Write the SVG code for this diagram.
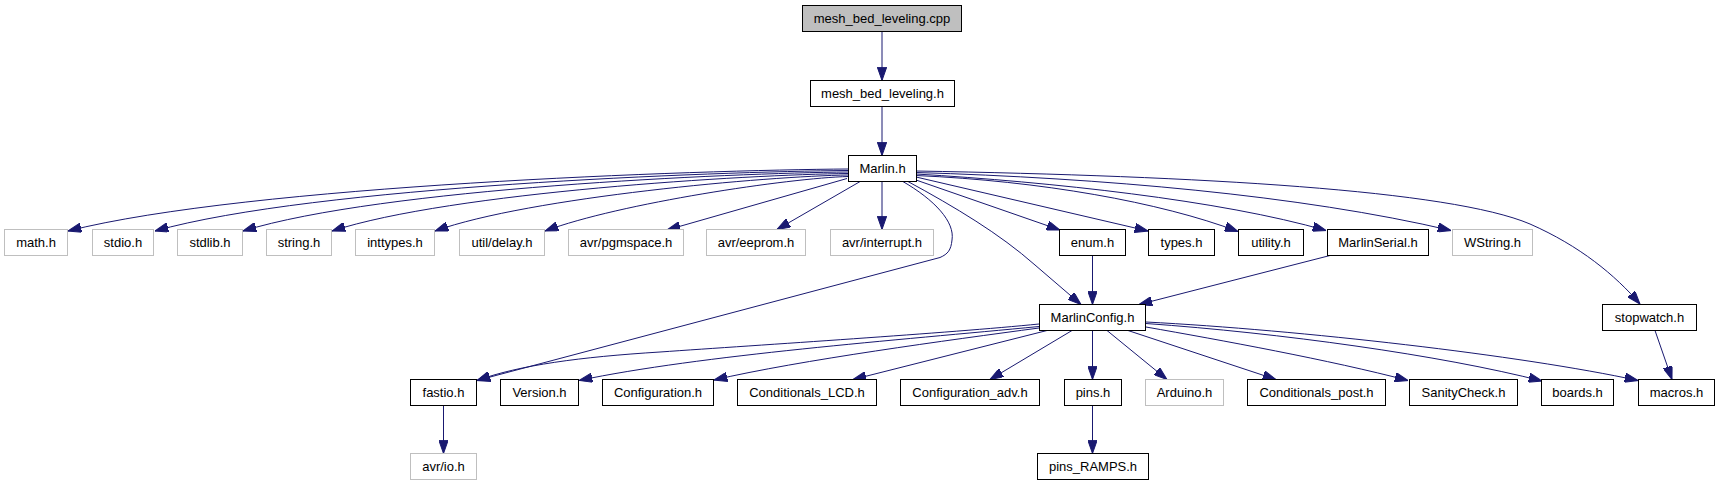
<svg xmlns="http://www.w3.org/2000/svg" width="1720" height="485" viewBox="0 0 1720 485">
<style>
.n rect{fill:#ffffff;stroke:#000000;stroke-width:1}
.n.g rect{stroke:#bfbfbf}
.n.cur rect{fill:#bfbfbf}
.n text{font-family:"Liberation Sans",Arial,sans-serif;font-size:13px;fill:#000000;text-anchor:middle}
#edges path{fill:none;stroke:#191970;stroke-width:1;marker-end:url(#ah)}
</style>
<defs>
<marker id="ah" markerUnits="userSpaceOnUse" viewBox="0 0 13.3 9.4" refX="13.3" refY="4.7" markerWidth="13.3" markerHeight="9.4" orient="auto">
<path d="M0,0 L13.3,4.7 L0,9.4 z" fill="#191970" stroke="#191970" stroke-width="1"/>
</marker>
</defs>
<rect x="0" y="0" width="1720" height="485" fill="#ffffff"/>
<g id="edges">
<path d="M882,31.5 L882,80.5"/>
<path d="M882,106.5 L882,155.5"/>
<path d="M848,169 C700,170 250,185 68,231"/>
<path d="M848,170.5 C718,171.5 315,186 155,231"/>
<path d="M848,172 C733,173 383,188 243,231"/>
<path d="M848,173.5 C750,174.5 452,192 332,231"/>
<path d="M848,175 C770,176 530,197 435,231"/>
<path d="M848,176.5 C790,178 620,203 545,231"/>
<path d="M847,178.5 L667,230"/>
<path d="M861,181 L777,229.5"/>
<path d="M882,181.5 L882,229.5"/>
<path d="M902,181 C935,200 955,222 952,240 C951,250 948,254 940,257.5 L477,380.5"/>
<path d="M907,181 C955,207 1000,234 1035,265 L1081,304.5"/>
<path d="M916,180 L1060,230"/>
<path d="M916,177 L1148,231"/>
<path d="M916,175.5 C1040,181 1160,202 1238,231.5"/>
<path d="M916,174 C1050,182 1220,200 1326,230.5"/>
<path d="M916,172.5 C1100,178 1300,195 1451,230.5"/>
<path d="M916,171 C1200,176 1450,190 1530,224 C1580,246 1615,275 1640,304"/>
<path d="M1092.5,255.5 L1092.5,304.5"/>
<path d="M1330,255.5 L1139,304.5"/>
<path d="M1039,324 C950,333 760,345 660,352 C580,357 520,365 477,380.5"/>
<path d="M1039,326.5 C900,340 700,355 579,380.5"/>
<path d="M1039,328 C950,340 800,360 714,380"/>
<path d="M1047,330.5 L853,379.5"/>
<path d="M1072,330.5 L990,379.5"/>
<path d="M1092.5,330.5 L1092.5,379.5"/>
<path d="M1107,330.5 L1167,379.5"/>
<path d="M1128,330.5 L1276,379.5"/>
<path d="M1146,327 C1220,340 1330,360 1408,380.5"/>
<path d="M1146,323.5 C1280,333 1440,355 1542,381"/>
<path d="M1146,322 C1300,330 1520,355 1638,380.5"/>
<path d="M1655,330.5 L1672,379.5"/>
<path d="M443.5,405.5 L443.5,453.5"/>
<path d="M1092.5,405.5 L1092.5,453.5"/>
</g>
<g id="node_cpp" class="n cur"><rect x="802.5" y="5.5" width="159" height="26"/><text x="882" y="22.5">mesh_bed_leveling.cpp</text></g>
<g id="node_mbl_h" class="n"><rect x="810.5" y="80.5" width="144" height="26"/><text x="882.5" y="97.5">mesh_bed_leveling.h</text></g>
<g id="node_marlin_h" class="n"><rect x="848.5" y="155.5" width="68" height="26"/><text x="882.5" y="172.5">Marlin.h</text></g>
<g id="node_math_h" class="n g"><rect x="4.5" y="229.5" width="63" height="26"/><text x="36" y="246.5">math.h</text></g>
<g id="node_stdio_h" class="n g"><rect x="92.5" y="229.5" width="61" height="26"/><text x="123" y="246.5">stdio.h</text></g>
<g id="node_stdlib_h" class="n g"><rect x="177.5" y="229.5" width="65" height="26"/><text x="210" y="246.5">stdlib.h</text></g>
<g id="node_string_h" class="n g"><rect x="266.5" y="229.5" width="65" height="26"/><text x="299" y="246.5">string.h</text></g>
<g id="node_inttypes_h" class="n g"><rect x="355.5" y="229.5" width="79" height="26"/><text x="395" y="246.5">inttypes.h</text></g>
<g id="node_util_delay_h" class="n g"><rect x="459.5" y="229.5" width="85" height="26"/><text x="502" y="246.5">util/delay.h</text></g>
<g id="node_avr_pgmspace_h" class="n g"><rect x="568.5" y="229.5" width="115" height="26"/><text x="626" y="246.5">avr/pgmspace.h</text></g>
<g id="node_avr_eeprom_h" class="n g"><rect x="706.5" y="229.5" width="99" height="26"/><text x="756" y="246.5">avr/eeprom.h</text></g>
<g id="node_avr_interrupt_h" class="n g"><rect x="830.5" y="229.5" width="103" height="26"/><text x="882" y="246.5">avr/interrupt.h</text></g>
<g id="node_enum_h" class="n"><rect x="1059.5" y="229.5" width="66" height="26"/><text x="1092.5" y="246.5">enum.h</text></g>
<g id="node_types_h" class="n"><rect x="1148.5" y="229.5" width="66" height="26"/><text x="1181.5" y="246.5">types.h</text></g>
<g id="node_utility_h" class="n"><rect x="1238.5" y="229.5" width="65" height="26"/><text x="1271" y="246.5">utility.h</text></g>
<g id="node_marlinserial_h" class="n"><rect x="1327.5" y="229.5" width="101" height="26"/><text x="1378" y="246.5">MarlinSerial.h</text></g>
<g id="node_wstring_h" class="n g"><rect x="1452.5" y="229.5" width="80" height="26"/><text x="1492.5" y="246.5">WString.h</text></g>
<g id="node_marlinconfig_h" class="n"><rect x="1039.5" y="304.5" width="106" height="26"/><text x="1092.5" y="321.5">MarlinConfig.h</text></g>
<g id="node_stopwatch_h" class="n"><rect x="1602.5" y="304.5" width="94" height="26"/><text x="1649.5" y="321.5">stopwatch.h</text></g>
<g id="node_fastio_h" class="n"><rect x="410.5" y="379.5" width="66" height="26"/><text x="443.5" y="396.5">fastio.h</text></g>
<g id="node_version_h" class="n"><rect x="500.5" y="379.5" width="78" height="26"/><text x="539.5" y="396.5">Version.h</text></g>
<g id="node_configuration_h" class="n"><rect x="602.5" y="379.5" width="111" height="26"/><text x="658" y="396.5">Configuration.h</text></g>
<g id="node_conditionals_lcd_h" class="n"><rect x="737.5" y="379.5" width="139" height="26"/><text x="807" y="396.5">Conditionals_LCD.h</text></g>
<g id="node_configuration_adv_h" class="n"><rect x="900.5" y="379.5" width="139" height="26"/><text x="970" y="396.5">Configuration_adv.h</text></g>
<g id="node_pins_h" class="n"><rect x="1064.5" y="379.5" width="57" height="26"/><text x="1093" y="396.5">pins.h</text></g>
<g id="node_arduino_h" class="n g"><rect x="1145.5" y="379.5" width="78" height="26"/><text x="1184.5" y="396.5">Arduino.h</text></g>
<g id="node_conditionals_post_h" class="n"><rect x="1247.5" y="379.5" width="138" height="26"/><text x="1316.5" y="396.5">Conditionals_post.h</text></g>
<g id="node_sanitycheck_h" class="n"><rect x="1409.5" y="379.5" width="108" height="26"/><text x="1463.5" y="396.5">SanityCheck.h</text></g>
<g id="node_boards_h" class="n"><rect x="1541.5" y="379.5" width="72" height="26"/><text x="1577.5" y="396.5">boards.h</text></g>
<g id="node_macros_h" class="n"><rect x="1638.5" y="379.5" width="76" height="26"/><text x="1676.5" y="396.5">macros.h</text></g>
<g id="node_avr_io_h" class="n g"><rect x="410.5" y="453.5" width="66" height="26"/><text x="443.5" y="470.5">avr/io.h</text></g>
<g id="node_pins_ramps_h" class="n"><rect x="1037.5" y="453.5" width="111" height="26"/><text x="1093" y="470.5">pins_RAMPS.h</text></g>
</svg>
